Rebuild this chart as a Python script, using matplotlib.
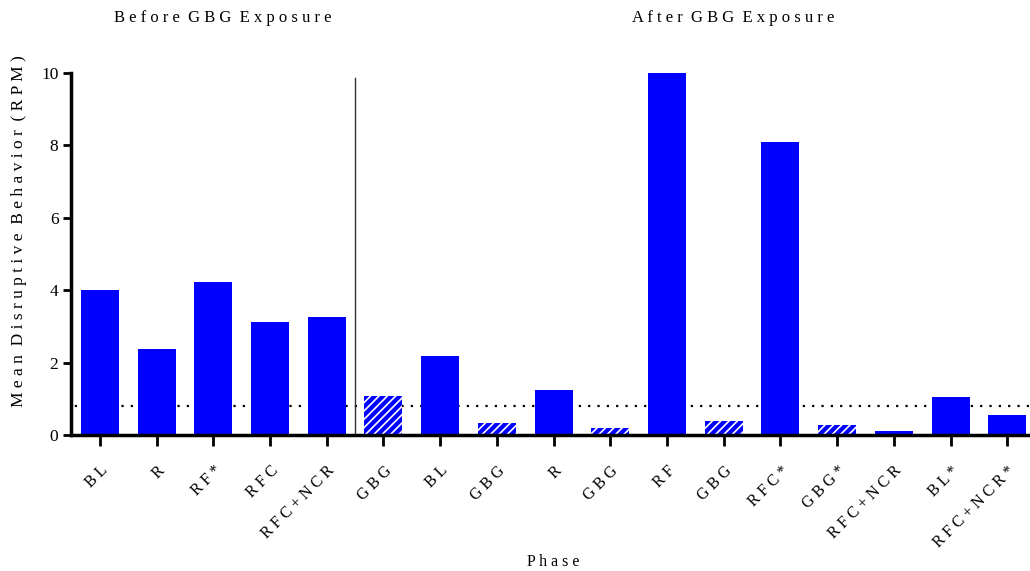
import matplotlib.pyplot as plt

plt.rcParams['font.family'] = ['Liberation Serif', 'DejaVu Serif']
plt.rcParams['hatch.linewidth'] = 1.2

phases = ['BL', 'R', 'RF*', 'RFC', 'RFC+NCR',
          'GBG', 'BL', 'GBG', 'R', 'GBG', 'RF', 'GBG', 'RFC*', 'GBG*',
          'RFC+NCR', 'BL*', 'RFC+NCR*']
rpm = [4.0, 2.38, 4.23, 3.12, 3.26,
       1.08, 2.18, 0.33, 1.24, 0.19, 10.0, 0.39, 8.09, 0.28,
       0.10, 1.05, 0.55]
gbg_phase = [p.startswith('GBG') for p in phases]
criterion = 0.8
n_before = 5


def spaced(s, sep=' ', word_sep='   '):
    # widen the letter spacing the way the original typesetting does
    return word_sep.join(sep.join(w) for w in s.split(' '))


fig = plt.figure(figsize=(10.3, 5.71), dpi=100)
ax = fig.add_axes([71 / 1030, 1 - 435 / 571, 1 - 71 / 1030, (435 - 73) / 571])

x = list(range(len(phases)))
for i, (v, g) in enumerate(zip(rpm, gbg_phase)):
    if g:
        ax.bar(i, v, width=0.67, color='#0000ff', edgecolor='white',
               linewidth=0, hatch='////', zorder=2)
    else:
        ax.bar(i, v, width=0.67, color='#0000ff', linewidth=0, zorder=2)

# criterion line and phase divider
ax.axhline(criterion, color='black', linestyle=(2.5, (1, 3.2)), linewidth=1.6, zorder=1)
ax.plot([n_before - 0.5, n_before - 0.5], [0, 9.85], color='#333333', linewidth=1, zorder=1)

ax.set_xlim(-0.51, 16.4)
ax.set_ylim(0, 10)
ax.set_yticks([0, 2, 4, 6, 8, 10])
ax.set_xticks(x)
ax.set_xticklabels([spaced(p) for p in phases], rotation=45, ha='right',
                   rotation_mode='anchor', fontsize=11.5)
ax.tick_params(axis='y', direction='out', length=6, width=2, labelsize=12.5, pad=3)
ax.tick_params(axis='x', direction='out', length=8, width=2, pad=12)

for s in ['top', 'right']:
    ax.spines[s].set_visible(False)
ax.spines['left'].set_linewidth(2.5)
ax.spines['bottom'].set_linewidth(2.5)

ax.set_ylabel(spaced('Mean Disruptive Behavior (RPM)', word_sep='  '), fontsize=12.5)
ax.yaxis.set_label_coords(-44 / 959, 0.563)
fig.text(553 / 1030, 1 - 562 / 571, spaced('Phase'), ha='center', va='center', fontsize=11.5)
fig.text(223 / 1030, 1 - 18 / 571, spaced('Before GBG Exposure', word_sep='  '), ha='center', va='center', fontsize=12)
fig.text(733 / 1030, 1 - 18 / 571, spaced('After GBG Exposure', word_sep='  '), ha='center', va='center', fontsize=12)

fig.savefig('out.png', dpi=100)
